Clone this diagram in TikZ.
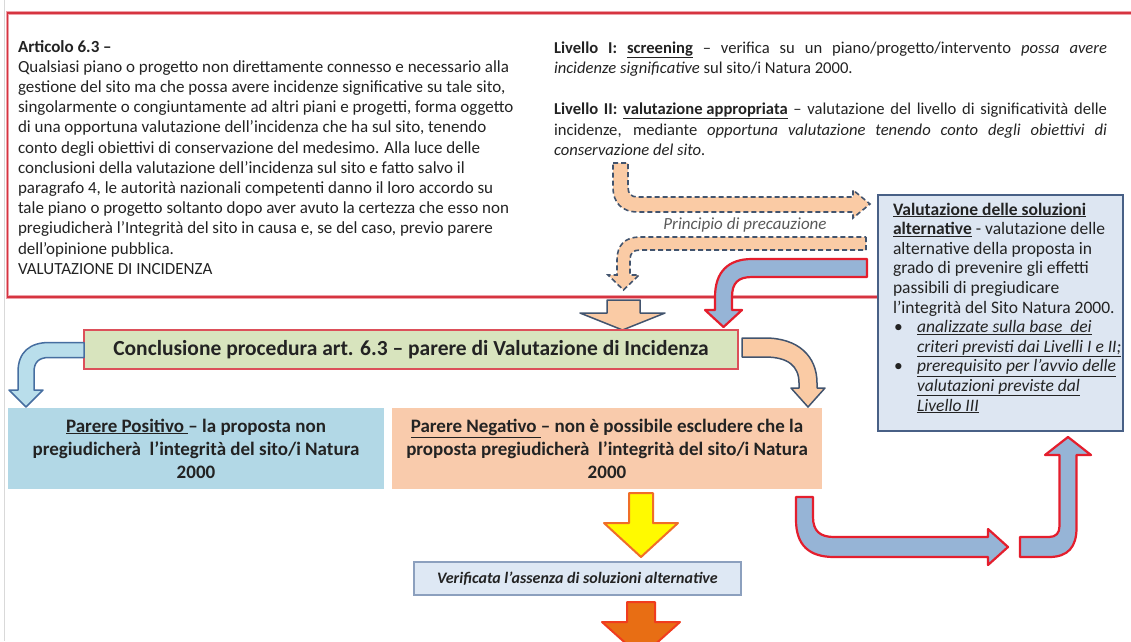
\documentclass[tikz,border=0pt]{standalone}
\usepackage{fontspec}
\setmainfont{Carlito}
\newcommand{\myfs}[2]{\fontsize{#1}{#2}\selectfont}
\definecolor{redline}{RGB}{214,52,64}
\definecolor{pinkline}{RGB}{238,160,168}
\definecolor{greenfill}{RGB}{216,228,190}
\definecolor{greenline}{RGB}{220,80,90}
\definecolor{posfill}{RGB}{178,216,230}
\definecolor{negfill}{RGB}{249,203,172}
\definecolor{bluefill}{RGB}{221,230,242}
\definecolor{blueline}{RGB}{72,96,134}
\definecolor{verfill}{RGB}{222,232,244}
\definecolor{verline}{RGB}{140,160,190}
\definecolor{peach}{RGB}{250,203,165}
\definecolor{slate}{RGB}{66,84,110}
\definecolor{arrowblue}{RGB}{150,180,214}
\definecolor{arrowred}{RGB}{228,30,45}
\definecolor{leftfill}{RGB}{185,222,235}
\definecolor{leftline}{RGB}{70,110,160}
\definecolor{yel}{RGB}{255,250,0}
\definecolor{yelline}{RGB}{240,110,40}
\definecolor{org}{RGB}{232,110,20}
\definecolor{orgline}{RGB}{240,60,30}
\definecolor{txt}{RGB}{35,35,35}
\definecolor{greytxt}{RGB}{90,90,90}
\begin{document}
\begin{tikzpicture}[x=1pt,y=-1pt,
  txtnode/.style={inner sep=0pt, outer sep=0pt, text=txt, anchor=base west},
  dasharrow/.style={fill=peach, draw=slate, line width=1.6pt, dash pattern=on 5pt off 3pt},
  redarrow/.style={fill=arrowblue, draw=arrowred, line width=2.2pt, line join=round},
  peacharrow/.style={fill=peach, draw=slate, line width=1.5pt, line join=round},
  leftarrow/.style={fill=leftfill, draw=leftline, line width=1.5pt, line join=round},
  yellowarrow/.style={fill=yel, draw=yelline, line width=2pt, line join=round},
  orangearrow/.style={fill=org, draw=orgline, line width=2pt, line join=round},
  boxnode/.style={inner sep=0pt, outer sep=0pt, anchor=north west, text=txt}
]
\useasboundingbox (0,0) rectangle (1131,641);
\fill[white] (0,0) rectangle (1131,641);
\draw[gray!30, line width=0.8pt] (4.5,0) -- (4.5,641);

% red frame
\draw[pinkline, line width=3.2pt] (1131,13) -- (7.5,13) -- (7.5,297) -- (878,297);
\draw[redline, line width=1.1pt] (1131,13) -- (7.5,13) -- (7.5,297) -- (878,297);

% left text
\node[txtnode] (art) at (18,52) {\parbox[t]{560pt}{\myfs{17}{20.2}\raggedright
\textbf{Articolo 6.3 –}\\
Qualsiasi piano o progetto non direttamente connesso e necessario alla\\
gestione del sito ma che possa avere incidenze significative su tale sito,\\
singolarmente o congiuntamente ad altri piani e progetti, forma oggetto\\
di una opportuna valutazione dell'incidenza che ha sul sito, tenendo\\
conto degli obiettivi di conservazione del medesimo. Alla luce delle\\
conclusioni della valutazione dell'incidenza sul sito e fatto salvo il\\
paragrafo 4, le autorità nazionali competenti danno il loro accordo su\\
tale piano o progetto soltanto dopo aver avuto la certezza che esso non\\
pregiudicherà l'Integrità del sito in causa e, se del caso, previo parere\\
dell'opinione pubblica.\\
VALUTAZIONE DI INCIDENZA}};

% right text
\node[txtnode] (liv) at (554,53) {\parbox[t]{553pt}{\myfs{16.6}{20.5}\raggedright
\makebox[553pt][s]{\textbf{Livello I:} \textbf{\underline{screening}} – verifica su un piano/progetto/intervento \textit{possa avere}}\\
\textit{incidenze significative} sul sito/i Natura 2000.\\
\mbox{}\\
\makebox[553pt][s]{\textbf{Livello II:} \textbf{\underline{valutazione appropriata}} – valutazione del livello di significatività delle}\\
\makebox[553pt][s]{incidenze, mediante \textit{opportuna valutazione tenendo conto degli obiettivi di}}\\
\textit{conservazione del sito.}}};

% dashed arrows
\path[dasharrow] (613,163) -- (628,163) -- (628,187) .. controls (628,194) and (631,197) .. (638,197) -- (853,197) -- (853,190) -- (870,204) -- (853,218) -- (853,212) -- (638,212) .. controls (622,212) and (613,203) .. (613,187) -- cycle;
\node[inner sep=0pt, text=greytxt, font=\myfs{17}{19}\itshape] (prec) at (745,225) {Principio di precauzione};
\path[dasharrow] (866,237) -- (866,250) -- (640,250) .. controls (633,250) and (630,253) .. (630,260) -- (630,275) -- (639,275) -- (623.5,290) -- (608,275) -- (617,275) -- (617,260) .. controls (617,245) and (625,237) .. (640,237) -- cycle;

% red arrow from alternatives to conclusion
\path[redarrow] (867,259) -- (867,277) -- (752,277) .. controls (738,277) and (732,283) .. (732,297) -- (732,310) -- (742,310) -- (723.5,327) -- (705,310) -- (715,310) -- (715,297) .. controls (715,272) and (728,259) .. (752,259) -- cycle;

% alternatives box
\node[boxnode, fill=bluefill, draw=blueline, line width=1.6pt, minimum width=245, minimum height=236] (vsa) at (878,195) {};
\node[txtnode] (vsatext) at (893,215) {\parbox[t]{240pt}{\myfs{17.5}{19.6}\raggedright
\textbf{\underline{Valutazione delle soluzioni}}\\
\textbf{\underline{alternative}} - valutazione delle\\
alternative della proposta in\\
grado di prevenire gli effetti\\
passibili di pregiudicare\\
l'integrità del Sito Natura 2000.\\
\hspace*{1pt}\makebox[23pt][l]{•}\textit{\underline{analizzate sulla base\ \ dei}}\\
\hspace*{24pt}\textit{\underline{criteri previsti dai Livelli I e II;}}\\
\hspace*{1pt}\makebox[23pt][l]{•}\textit{\underline{prerequisito per l'avvio delle}}\\
\hspace*{24pt}\textit{\underline{valutazioni previste dal}}\\
\hspace*{24pt}\textit{\underline{Livello III}}}};

% peach down arrow into conclusion
\path[peacharrow] (607,300) -- (640,300) -- (640,313) -- (665,313) -- (622.5,330) -- (580,313) -- (607,313) -- cycle;

% conclusion box
\node[boxnode, fill=greenfill, draw=greenline, line width=1.4pt, minimum width=654, minimum height=39, font=\myfs{21.5}{24}\bfseries] (concl) at (84,330) {Conclusione procedura art. 6.3 – parere di Valutazione di Incidenza};

% arrows from conclusion
\path[leftarrow] (84,342.5) -- (84,357.5) -- (49,357.5) .. controls (39,357.5) and (34,362) .. (34,372) -- (34,390) -- (43,390) -- (26,407) -- (9,390) -- (18,390) -- (18,372) .. controls (18,352) and (30,342.5) .. (49,342.5) -- cycle;
\path[peacharrow] (742,338) -- (765,338) .. controls (798,338) and (817,356) .. (817,383) -- (817,388) -- (825,388) -- (808,407) -- (791,388) -- (799,388) -- (799,383) .. controls (799,366) and (788,357) .. (765,357) -- (742,357) -- cycle;

% outcome boxes
\node[boxnode, fill=posfill, minimum width=376, minimum height=81, align=center, font=\myfs{19}{23}\bfseries] (pos) at (8,408) {\underline{Parere Positivo\ }– la proposta non\\pregiudicherà\ \ l’integrità del sito/i Natura\\2000};
\node[boxnode, fill=negfill, minimum width=430, minimum height=81, align=center, font=\myfs{19}{23}\bfseries] (neg) at (392,408) {\underline{Parere Negativo\ }– non è possibile escludere che la\\proposta pregiudicherà\ \ l’integrità del sito/i Natura\\2000};

% yellow arrow, check box, orange arrow
\path[yellowarrow] (629,493) -- (653,493) -- (653,523) -- (678,523) -- (641,557) -- (604,523) -- (629,523) -- cycle;
\node[boxnode, fill=verfill, draw=verline, line width=1.2pt, minimum width=327, minimum height=33, font=\myfs{16}{18}\bfseries\itshape] (verif) at (414,562) {Verificata l'assenza di soluzioni alternative};
\path[orangearrow] (627,602) -- (655,602) -- (655,622) -- (680,622) -- (641,657) -- (602,622) -- (627,622) -- cycle;

% red-outlined arrows toward alternatives
\path[redarrow] (796,497) -- (813,497) -- (813,517) .. controls (813,531) and (820,537) .. (834,537) -- (988,537) -- (988,529) -- (1008,547) -- (988,565) -- (988,557) -- (834,557) .. controls (809,557) and (796,545) .. (796,520) -- cycle;
\path[redarrow] (1020,537) -- (1049,537) .. controls (1056,537) and (1059.5,533) .. (1059.5,526) -- (1059.5,455) -- (1045,455) -- (1068,437) -- (1091,455) -- (1076.5,455) -- (1076.5,528) .. controls (1076.5,547) and (1068,557) .. (1049,557) -- (1020,557) -- cycle;
\end{tikzpicture}
\end{document}
